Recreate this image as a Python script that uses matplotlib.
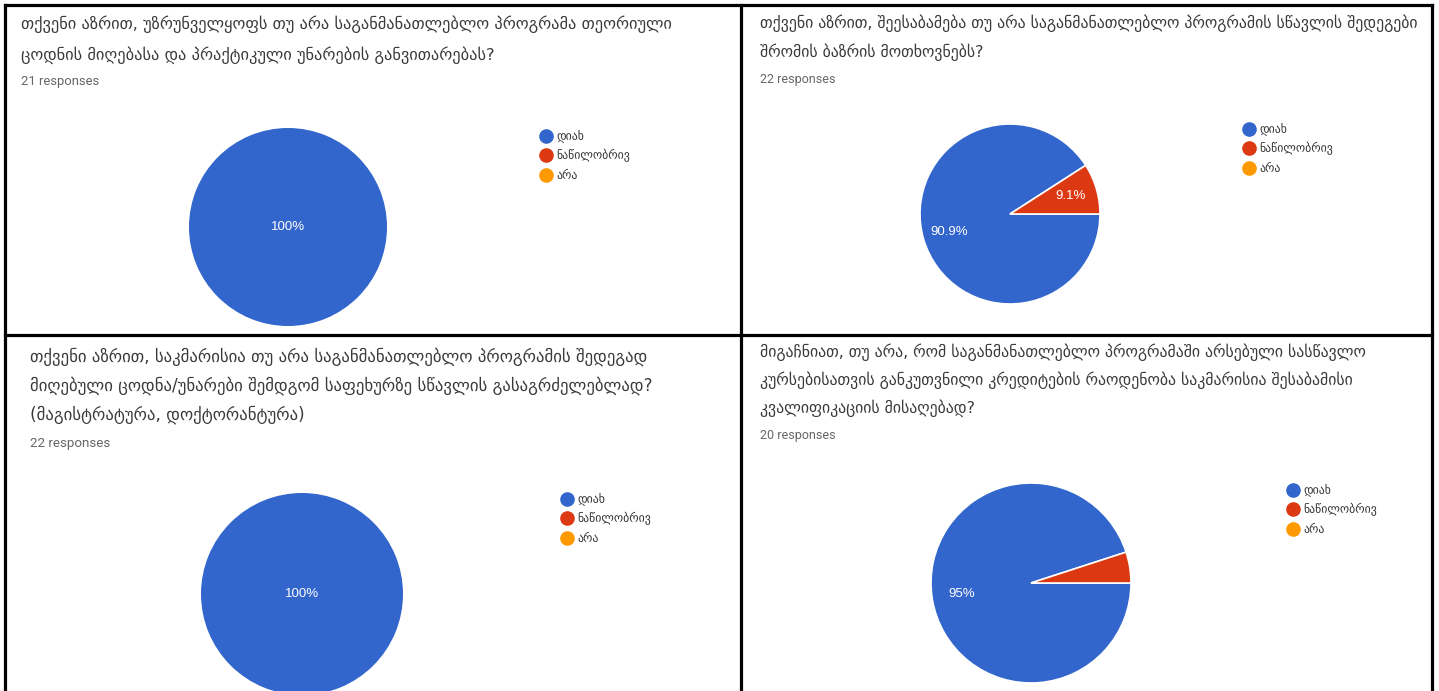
import matplotlib
matplotlib.use("Agg")
import matplotlib.pyplot as plt
from matplotlib.lines import Line2D

# ---------------- data ----------------
categories = ["დიახ", "ნაწილობრივ", "არა"]
colors = ["#3366CC", "#DC3912", "#FF9900"]

titles = [
    "თქვენი აზრით, უზრუნველყოფს თუ არა საგანმანათლებლო პროგრამა თეორიული\nცოდნის მიღებასა და პრაქტიკული უნარების განვითარებას?",
    "თქვენი აზრით, შეესაბამება თუ არა საგანმანათლებლო პროგრამის სწავლის შედეგები\nშრომის ბაზრის მოთხოვნებს?",
    "თქვენი აზრით, საკმარისია თუ არა საგანმანათლებლო პროგრამის შედეგად\nმიღებული ცოდნა/უნარები შემდგომ საფეხურზე სწავლის გასაგრძელებლად?\n(მაგისტრატურა, დოქტორანტურა)",
    "მიგაჩნიათ, თუ არა, რომ საგანმანათლებლო პროგრამაში არსებული სასწავლო\nკურსებისათვის განკუთვნილი კრედიტების რაოდენობა საკმარისია შესაბამისი\nკვალიფიკაციის მისაღებად?",
]
responses = [21, 22, 22, 20]
counts_q1 = [21, 0, 0]
counts_q2 = [20, 2, 0]
counts_q3 = [22, 0, 0]
counts_q4 = [19, 1, 0]
all_counts = [counts_q1, counts_q2, counts_q3, counts_q4]

# ---------------- layout (pixels) ----------------
W, H = 1439, 691
fig = plt.figure(figsize=(W / 100, H / 100), dpi=100)
fig.patch.set_facecolor("white")

def fx(x):
    return x / W

def fy(y):
    return 1 - y / H

# panel layout: title origin, line spacing, font scale, pie center/radius, legend origin
panels = [
    dict(tx=21, ty=24, ls=31, fs=11.75, ry=82, cx=288, cy=227, r=99, lx=533, ly=124),
    dict(tx=760, ty=23, ls=29, fs=11.3, ry=80, cx=1010, cy=214, r=90, lx=1236, ly=117),
    dict(tx=30, ty=357, ls=29, fs=12.1, ry=443, cx=302, cy=594, r=101, lx=554, ly=487),
    dict(tx=760, ty=352, ls=28, fs=11.3, ry=435, cx=1031, cy=583, r=100, lx=1280, ly=478),
]

title_font = ["DejaVu Sans"]
latin_font = ["Roboto", "DejaVu Sans"]

def fmt_pct(p):
    if p < 7:
        return ""
    s = f"{p:.1f}"
    if s.endswith(".0"):
        s = s[:-2]
    return s + "%"

for i, (p, counts) in enumerate(zip(panels, all_counts)):
    # title lines
    for j, line in enumerate(titles[i].split("\n")):
        fig.text(fx(p["tx"]), fy(p["ty"] + j * p["ls"]), line,
                 fontsize=p["fs"], color="#3a3a3a", family=title_font,
                 ha="left", va="center")
    fig.text(fx(p["tx"]), fy(p["ry"]), f"{responses[i]} responses",
             fontsize=p["fs"] * 0.8, color="#666666", family=latin_font,
             ha="left", va="center")

    # pie
    r = p["r"]
    ax = fig.add_axes([fx(p["cx"] - r), fy(p["cy"] + r), 2 * r / W, 2 * r / H])
    ax.axis("off")
    vals = [v for v in counts if v > 0]
    cols = [c for v, c in zip(counts, colors) if v > 0]
    single = len(vals) == 1
    ax.pie(
        vals, colors=cols, startangle=0, counterclock=False, radius=1,
        autopct=fmt_pct, pctdistance=0 if single else 0.7,
        wedgeprops=dict(edgecolor="white", linewidth=0 if single else 1.2),
        textprops=dict(color="white", fontsize=9.5, family=["Liberation Sans"]),
    )
    ax.set_xlim(-1, 1)
    ax.set_ylim(-1, 1)

    # legend
    handles = [Line2D([0], [0], marker="o", linestyle="none", markersize=9.5,
                      markerfacecolor=c, markeredgecolor=c) for c in colors]
    fig.legend(handles, categories, loc="upper left",
               bbox_to_anchor=(fx(p["lx"]), fy(p["ly"])),
               bbox_transform=fig.transFigure, frameon=False,
               prop=dict(family=title_font, size=8.5),
               handletextpad=0.25, labelspacing=0.55, borderpad=0,
               handlelength=1.2, labelcolor="#333333")

# ---------------- table borders ----------------
lw = 2.3
border_lines = [
    ((5, 5), (5, 691)),
    ((5, 1432), (5, 5)),
    ((1432, 1432), (5, 691)),
    ((741, 741), (5, 691)),
    ((5, 1432), (335, 335)),
]
for xs, ys in border_lines:
    fig.add_artist(Line2D([fx(xs[0]), fx(xs[1])], [fy(ys[0]), fy(ys[1])],
                          transform=fig.transFigure, color="black", linewidth=lw))

fig.savefig("out.png", dpi=100, facecolor="white")
